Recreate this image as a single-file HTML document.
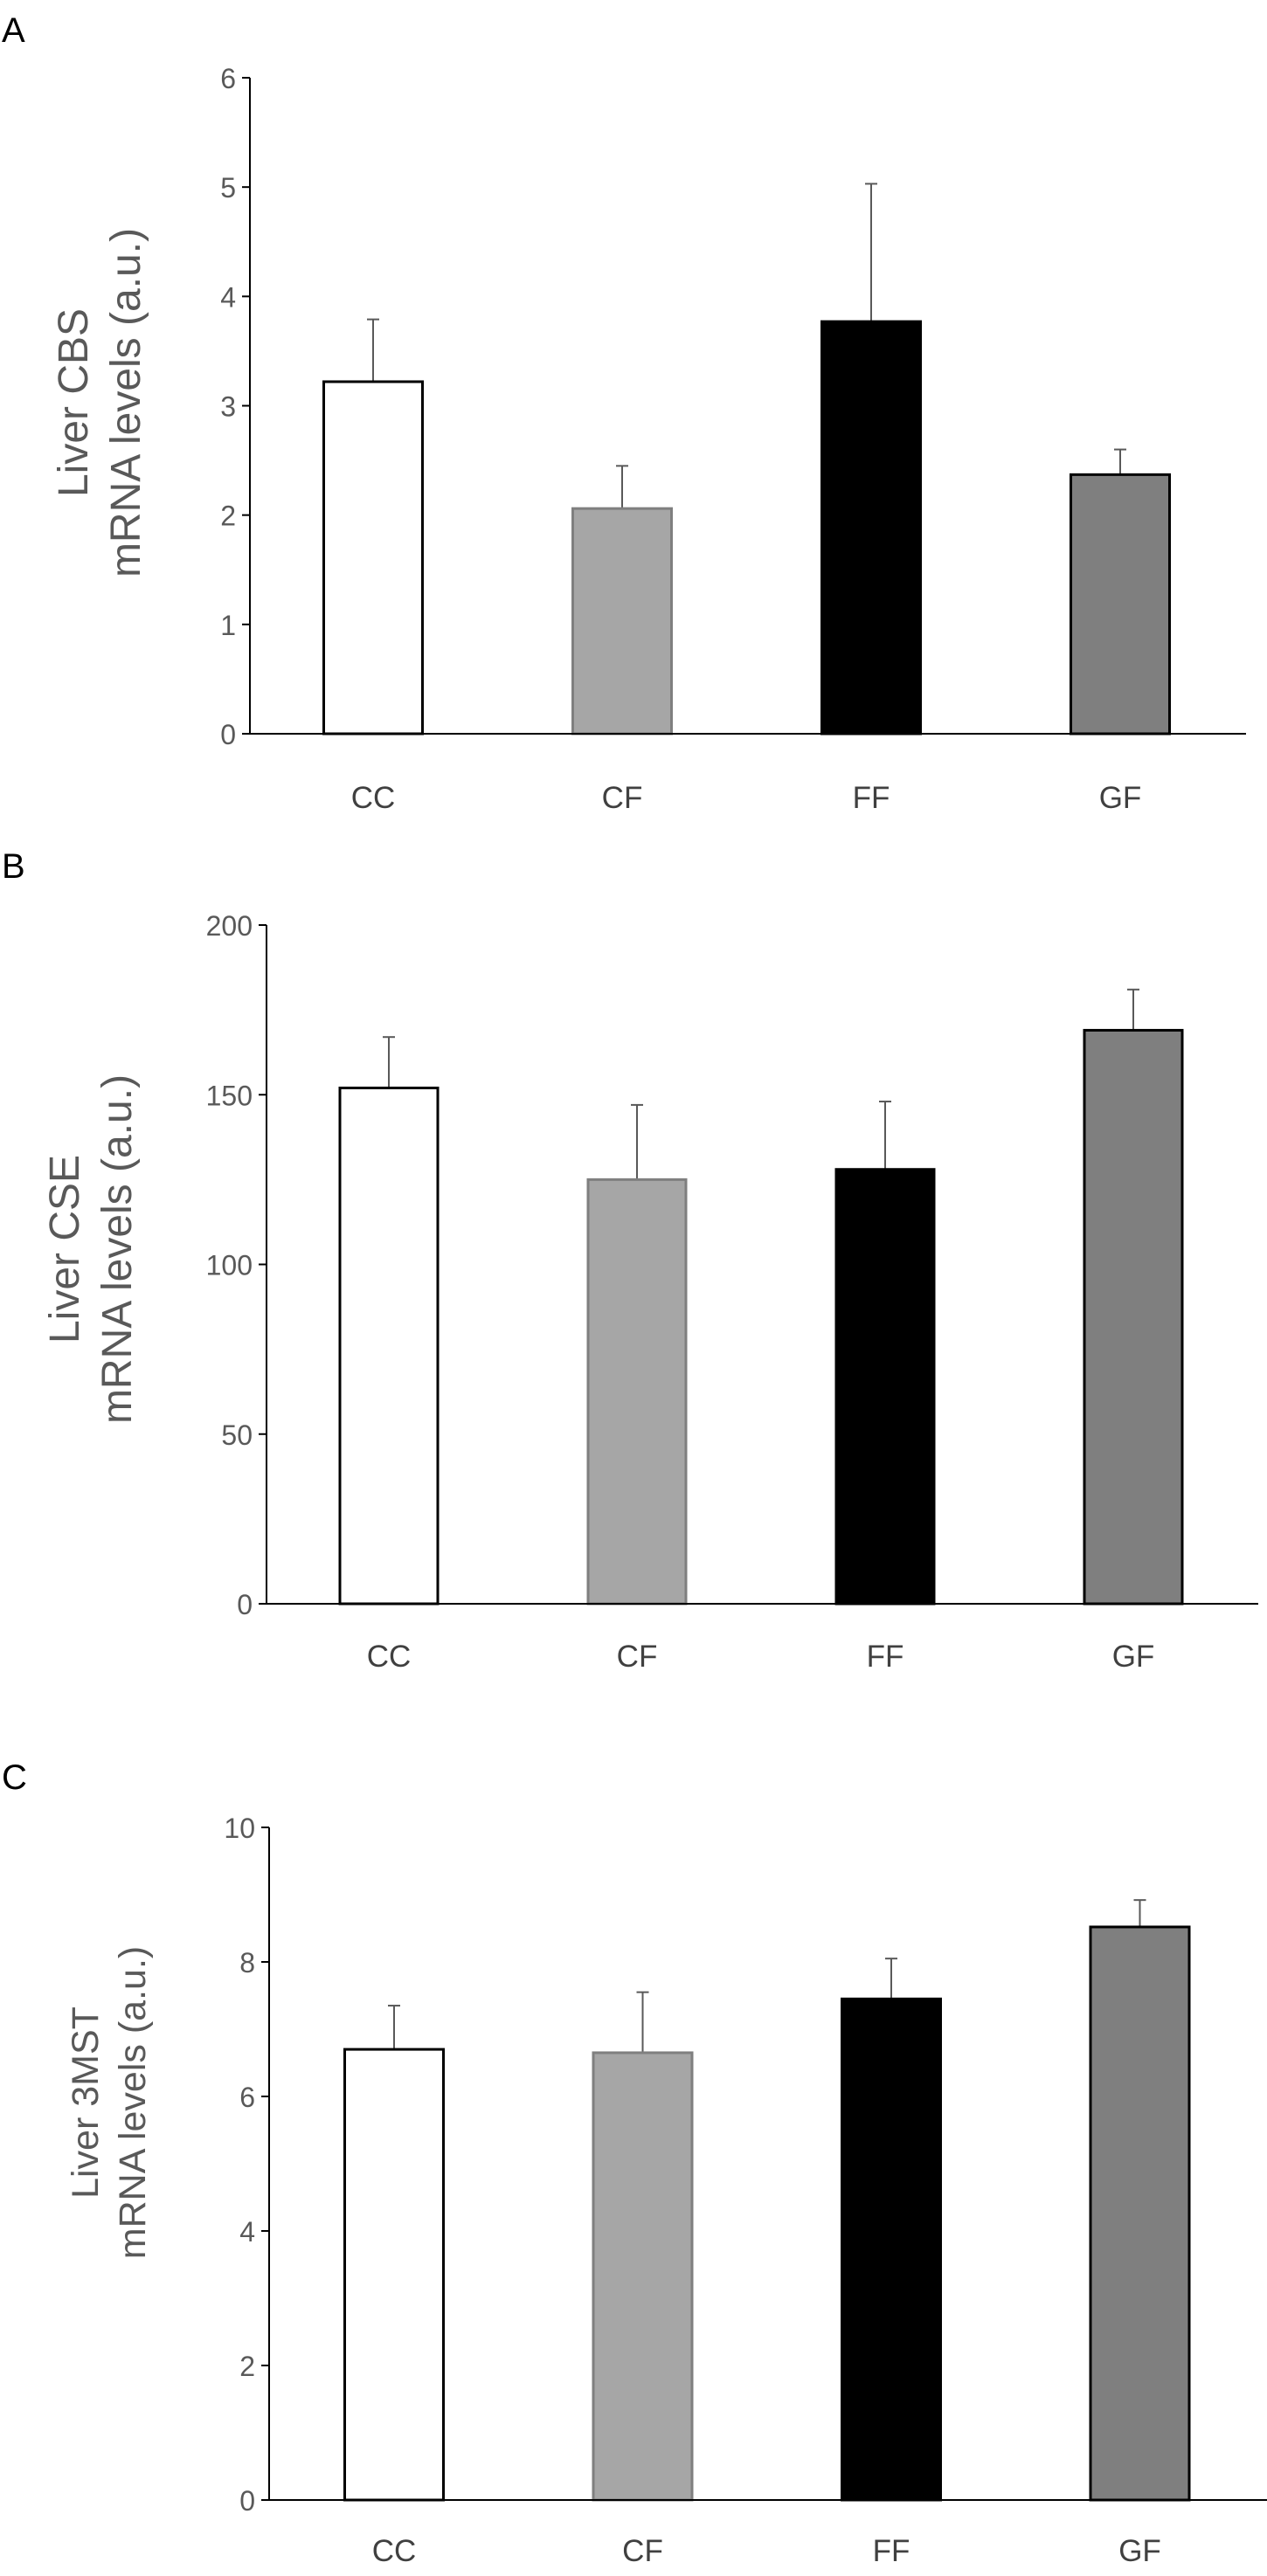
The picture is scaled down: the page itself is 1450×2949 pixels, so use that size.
<!DOCTYPE html>
<html><head><meta charset="utf-8"><style>
html,body{margin:0;padding:0;background:#fff;}
svg{display:block;font-family:"Liberation Sans Narrow","Liberation Sans",sans-serif;}
</style></head><body>
<svg id="fig" width="1450" height="2949" viewBox="0 0 1450 2949" xmlns="http://www.w3.org/2000/svg">
<text x="2" y="48" font-size="40" fill="#000">A</text>
<text x="2" y="1005" font-size="40" fill="#000">B</text>
<text x="2" y="2048" font-size="40" fill="#000">C</text>
</svg>
<script>
const categories = ["CC","CF","FF","GF"];
const fills = ["#ffffff","#a6a6a6","#000000","#7f7f7f"];
const strokes = ["#000000","#7f7f7f","#000000","#000000"];
const valuesA = [3.22, 2.06, 3.77, 2.37];
const errTopA = [3.79, 2.45, 5.03, 2.60];
const ticksA = [0,1,2,3,4,5,6];
const valuesB = [152, 125, 128, 169];
const errTopB = [167, 147, 148, 181];
const ticksB = [0,50,100,150,200];
const valuesC = [6.7, 6.65, 7.45, 8.52];
const errTopC = [7.35, 7.55, 8.05, 8.92];
const ticksC = [0,2,4,6,8,10];

const NS="http://www.w3.org/2000/svg";
const svg=document.getElementById('fig');
function mk(tag,attrs,parent){const e=document.createElementNS(NS,tag);for(const k in attrs)e.setAttribute(k,attrs[k]);(parent||svg).appendChild(e);return e;}

function panel(p){
  const g=mk('g',{});
  
  
  const maxV=p.ticks[p.ticks.length-1];
  const y=v=>p.y0-(v/maxV)*(p.y0-p.yTop);
  const x=i=>p.x0+i*p.step;
  const ya=mk('line',{x1:p.ax,y1:p.yTop,x2:p.ax,y2:p.y0,stroke:'#000','stroke-width':2},g);
  
  
  p.ticks.forEach(t=>{
    const tl=mk('line',{x1:p.ax-9,y1:y(t),x2:p.ax,y2:y(t),stroke:'#000','stroke-width':2},g);
    
    
    const tx=mk('text',{x:p.ax-16,y:y(t)+12,'font-size':p.tickFs,'text-anchor':'end',fill:'#595959'},g);
    tx.textContent=t;
    
    
  });
  categories.forEach((c,i)=>{
    const v=p.values[i],e=p.err[i];
    const el=mk('line',{x1:x(i),y1:y(e),x2:x(i),y2:y(v),stroke:'#595959','stroke-width':2},g);
    
    
    const cap=mk('line',{x1:x(i)-7,y1:y(e),x2:x(i)+7,y2:y(e),stroke:'#595959','stroke-width':2},g);
    
    
    const r=mk('rect',{x:x(i)-p.bw/2,y:y(v),width:p.bw,height:p.y0-y(v),fill:fills[i],stroke:strokes[i],'stroke-width':3},g);
    
    
    const lb=mk('text',{x:x(i),y:p.labY,'font-size':p.tickFs+3,'text-anchor':'middle',fill:'#404040'},g);
    lb.textContent=c;
    
    
  });
  const xa=mk('line',{x1:p.ax,y1:p.y0,x2:p.xEnd,y2:p.y0,stroke:'#000','stroke-width':2},g);
  
  
  const tt=mk('text',{transform:`translate(${p.tx},${p.ty}) rotate(-90)`,'font-size':p.titleFs,'text-anchor':'middle',fill:'#595959','font-family':'Liberation Sans, sans-serif'},g);
  
  
  const t1=mk('tspan',{x:0,y:0},tt);t1.textContent=p.title1;
  const t2=mk('tspan',{x:0,y:p.titleFs*1.25},tt);t2.textContent='mRNA levels (a.u.)';
}

panel({id:'a',values:valuesA,err:errTopA,ticks:ticksA,ax:286,yTop:89,y0:840,x0:427,step:285,bw:113,xEnd:1426,labY:925,tickFs:32,tx:100,ty:461,titleFs:48,title1:'Liver CBS'});
panel({id:'b',values:valuesB,err:errTopB,ticks:ticksB,ax:305,yTop:1059,y0:1836,x0:445,step:284,bw:112,xEnd:1440,labY:1908,tickFs:32,tx:90,ty:1430,titleFs:48,title1:'Liver CSE'});
panel({id:'c',values:valuesC,err:errTopC,ticks:ticksC,ax:308,yTop:2092,y0:2862,x0:451,step:284.5,bw:113,xEnd:1450,labY:2932,tickFs:32,tx:112,ty:2407,titleFs:43,title1:'Liver 3MST'});
</script>
</body></html>
